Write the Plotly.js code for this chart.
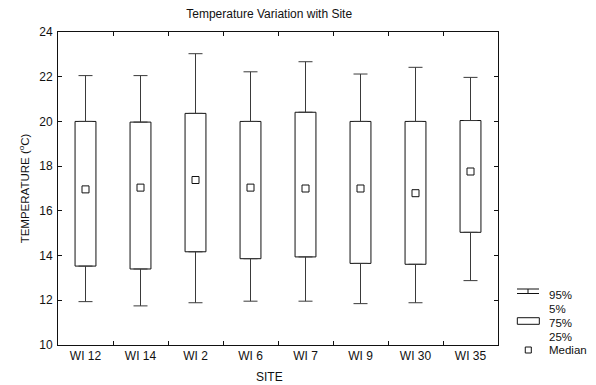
<!DOCTYPE html>
<html>
<head>
<meta charset="utf-8">
<script src="https://cdn.plot.ly/plotly-3.0.1.min.js"></script>
<style>
  html, body { margin: 0; padding: 0; background: #fff; }
  #chart { width: 596px; height: 385px; }
</style>
</head>
<body>
<div id="chart"></div>
<script>
// Temperature summary per site (°C)
const sites = ['WI 12', 'WI 14', 'WI 2', 'WI 6', 'WI 7', 'WI 9', 'WI 30', 'WI 35'];
const p95 = [22.05, 22.05, 23.03, 22.22, 22.67, 22.12, 22.42, 21.97];
const q3 = [20.00, 19.97, 20.36, 20.00, 20.41, 20.00, 20.00, 20.04];
const median = [16.96, 17.04, 17.38, 17.04, 17.00, 17.00, 16.79, 17.76];
const q1 = [13.53, 13.40, 14.17, 13.86, 13.94, 13.65, 13.61, 15.04];
const p5 = [11.94, 11.75, 11.89, 11.96, 11.96, 11.85, 11.89, 12.88];

const FONT = 'Liberation Sans, Arial, sans-serif';
const INK = '#111';
const zeros = sites.map(() => 0);

// 25%-75% boxes
const boxes = {
  type: 'bar',
  x: sites,
  base: q1,
  y: q3.map((v, i) => v - q1[i]),
  width: 0.38,
  marker: { color: '#fff', line: { color: INK, width: 1 } },
  hoverinfo: 'skip',
  showlegend: false
};

// 75% -> 95% whiskers
const upperWhisker = {
  type: 'scatter',
  mode: 'markers',
  x: sites,
  y: q3,
  marker: { opacity: 0, size: 1 },
  error_y: {
    type: 'data', symmetric: false,
    array: p95.map((v, i) => v - q3[i]),
    arrayminus: zeros,
    width: 7, thickness: 1, color: '#3a3a3a'
  },
  hoverinfo: 'skip',
  showlegend: false
};

// 25% -> 5% whiskers
const lowerWhisker = {
  type: 'scatter',
  mode: 'markers',
  x: sites,
  y: q1,
  marker: { opacity: 0, size: 1 },
  error_y: {
    type: 'data', symmetric: false,
    array: zeros,
    arrayminus: q1.map((v, i) => v - p5[i]),
    width: 7, thickness: 1, color: '#3a3a3a'
  },
  hoverinfo: 'skip',
  showlegend: false
};

// medians
const medians = {
  type: 'scatter',
  mode: 'markers',
  x: sites,
  y: median,
  marker: { symbol: 'square-open', size: 7, color: INK, line: { width: 1, color: INK } },
  showlegend: false
};

// key on the right-hand side, in paper units of the plot area
const keyShapes = [
  { type: 'line', xref: 'paper', yref: 'paper', x0: 1.0432, x1: 1.0932, y0: 0.1789, y1: 0.1789, line: { color: INK, width: 1 } },
  { type: 'line', xref: 'paper', yref: 'paper', x0: 1.0682, x1: 1.0682, y0: 0.1789, y1: 0.1645, line: { color: INK, width: 1 } },
  { type: 'line', xref: 'paper', yref: 'paper', x0: 1.0432, x1: 1.0932, y0: 0.1645, y1: 0.1645, line: { color: INK, width: 1 } },
  { type: 'rect', xref: 'paper', yref: 'paper', x0: 1.0439, x1: 1.0939, y0: 0.0661, y1: 0.0872, line: { color: INK, width: 1 }, fillcolor: '#fff' },
  { type: 'rect', xref: 'paper', yref: 'paper', x0: 1.0620, x1: 1.0757, y0: -0.0256, y1: -0.0064, line: { color: INK, width: 1 }, fillcolor: '#fff' }
];

const keyText = [
  ['95%', 0.1597], ['5%', 0.1166], ['75%', 0.0703], ['25%', 0.0256], ['Median', -0.016]
].map(([t, y]) => ({
  text: t, xref: 'paper', yref: 'paper', x: 1.1107, y: y,
  xanchor: 'left', yanchor: 'middle', showarrow: false,
  font: { family: FONT, size: 11.5, color: INK }
}));

const axisCommon = {
  showline: true, linecolor: INK, linewidth: 1, mirror: 'allticks',
  ticks: 'inside', ticklen: 4, tickcolor: INK, tickwidth: 1,
  showgrid: false, zeroline: false,
  tickfont: { family: FONT, size: 12, color: INK }
};

const layout = {
  width: 596, height: 385,
  margin: { l: 58, r: 98, t: 32, b: 40 },
  paper_bgcolor: '#fff', plot_bgcolor: '#fff',
  title: {
    text: 'Temperature Variation with Site',
    font: { family: FONT, size: 12, color: INK },
    xref: 'paper', x: 0.48, xanchor: 'center',
    yref: 'container', y: 0.965, yanchor: 'middle'
  },
  xaxis: Object.assign({}, axisCommon, {
    type: 'category', tickson: 'boundaries',
    range: [-0.5, 7.5], fixedrange: true
  }),
  yaxis: Object.assign({}, axisCommon, {
    range: [10, 24], tickmode: 'linear', tick0: 10, dtick: 2,
    ticklabelstandoff: 2,
    title: { text: 'TEMPERATURE (<sup>o</sup>C)', font: { family: FONT, size: 11.5, color: INK }, standoff: 7 }
  }),
  shapes: keyShapes,
  annotations: keyText.concat([{
    text: 'SITE', xref: 'paper', yref: 'paper', x: 0.48, y: -0.1018,
    xanchor: 'center', yanchor: 'middle', showarrow: false,
    font: { family: FONT, size: 12, color: INK }
  }])
};

Plotly.newPlot('chart', [boxes, upperWhisker, lowerWhisker, medians], layout, { staticPlot: true, displayModeBar: false });
</script>
</body>
</html>
